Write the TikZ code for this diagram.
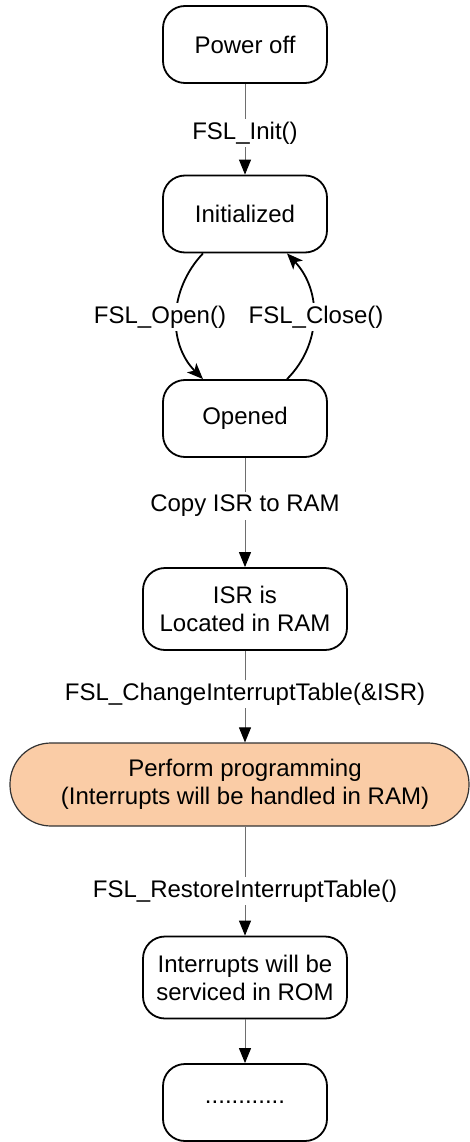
\documentclass[tikz,border=0pt]{standalone}
\usepackage{fontspec}
\setmainfont{Liberation Sans}
\usetikzlibrary{arrows.meta}
\definecolor{peach}{RGB}{250,204,166}
\definecolor{linegray}{RGB}{110,110,110}
\begin{document}
\begin{tikzpicture}[x=1pt,y=-1pt,
  txt/.style={font=\fontsize{24}{28}\selectfont},
  state/.style={txt,draw=black,line width=1.8pt,rounded corners=22pt,minimum width=164pt,minimum height=77pt,align=center,inner sep=0pt},
  widestate/.style={state,minimum width=204pt,minimum height=82pt},
  progbox/.style={draw=black!80,line width=1.2pt,fill=peach,rounded corners=41pt,minimum width=459pt,minimum height=83pt,inner sep=0pt},
  conn/.style={draw=linegray,line width=1pt,-{Triangle[length=15pt,width=12pt,color=black]}},
  curve/.style={draw=black,line width=1.8pt,-{Stealth[length=16pt,width=13pt,inset=4pt]}},
  lbl/.style={txt,fill=white,inner xsep=1pt,inner ysep=3pt}
]
\useasboundingbox (0,0) rectangle (470,1142);
\node[state] (power) at (245,44.5) {Power off};
\node[state] (init) at (245,214) {Initialized};
\node[state] (opened) at (245,418.5) {Opened};
\node[widestate] (isr) at (245,609) {ISR is\\Located in RAM};
\node[progbox] (prog) at (239.5,784.5) {};
\node[txt,align=center] (progtxt) at (245,784.5) {Perform programming\\(Interrupts will be handled in RAM)};
\node[widestate] (rom) at (245,977.5) {Interrupts will be\\serviced in ROM};
\node[state] (dots) at (245,1102.5) {............};

\draw[conn] (power) -- node[lbl,pos=0.54] (l1) {FSL\_Init()} (init);
\draw[curve] ([xshift=-42pt]init.south) .. controls +(-35,37) and +(-35,-35) .. ([xshift=-42pt]opened.north);
\draw[curve] ([xshift=42pt]opened.north) .. controls +(35,-35) and +(35,37) .. ([xshift=42pt]init.south);
\node[lbl] (lopen) at (160,317) {FSL\_Open()};
\node[lbl] (lclose) at (316,317) {FSL\_Close()};
\draw[conn] (opened) -- node[lbl,pos=0.44] (l2) {Copy ISR to RAM} (isr);
\draw[conn] (isr) -- node[lbl,pos=0.47] (l3) {FSL\_ChangeInterruptTable(\&ISR)} (prog.north -| isr);
\draw[conn] (prog.south -| rom) -- node[lbl,pos=0.59] (l4) {FSL\_RestoreInterruptTable()} (rom);
\draw[conn] (rom) -- (dots);
\end{tikzpicture}
\end{document}
